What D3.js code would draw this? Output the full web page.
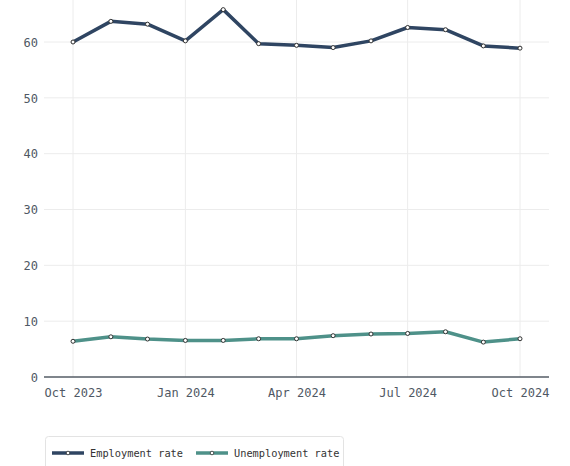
<!DOCTYPE html>
<html><head><meta charset="utf-8">
<script src="https://cdn.jsdelivr.net/npm/d3@7"></script>
<style>body{margin:0;background:#fff}svg{display:block}</style>
</head><body>
<svg id="c" width="570" height="466"></svg>
<script>
const months = ["2023-10","2023-11","2023-12","2024-01","2024-02","2024-03","2024-04","2024-05","2024-06","2024-07","2024-08","2024-09","2024-10"];
const employment = [60.0,63.7,63.2,60.2,65.8,59.7,59.4,59.0,60.2,62.6,62.2,59.3,58.9];
const unemployment = [6.4,7.2,6.8,6.55,6.55,6.85,6.85,7.4,7.7,7.8,8.1,6.25,6.85];
const yTicks = [0,10,20,30,40,50,60];
const xTickDates = ["2023-10","2024-01","2024-04","2024-07","2024-10"];
const seriesNames = ["Employment rate","Unemployment rate"];
const colors = ["#2f4562","#4e9189"];

(function(){
const parse = d3.timeParse("%Y-%m");
const dates = months.map(parse);
const svg = d3.select("#c");
const font = "'DejaVu Sans Mono', monospace";

const x = d3.scaleTime().domain([dates[0], dates[dates.length-1]]).range([73, 520]);
const y = d3.scaleLinear().domain([0, 60]).range([377, 42]);
const pl = 44, pr = 549, pt = 0;

const g = svg.append("g");
g.selectAll("line.hg").data(yTicks.filter(d=>d>0)).join("line")
  .attr("x1", pl).attr("x2", pr)
  .attr("y1", d=>y(d)).attr("y2", d=>y(d))
  .attr("stroke", "#ececec").attr("stroke-width", 1);
g.selectAll("line.vg").data(xTickDates.map(parse)).join("line")
  .attr("x1", d=>x(d)).attr("x2", d=>x(d))
  .attr("y1", pt).attr("y2", y(0))
  .attr("stroke", "#ececec").attr("stroke-width", 1);

const yAxis = d3.axisLeft(y).tickValues(yTicks).tickSize(0).tickPadding(0);
const ya = svg.append("g").attr("transform", `translate(${pl-6},0)`).call(yAxis);
ya.select(".domain").remove();
ya.selectAll("text").attr("font-family", font).attr("font-size", 12).attr("fill", "#4f5864").attr("dy","0.35em");

const xAxis = d3.axisBottom(x).tickValues(xTickDates.map(parse)).tickFormat(d3.timeFormat("%b %Y")).tickSize(0).tickPadding(11);
const xa = svg.append("g").attr("transform", `translate(0,${y(0)})`).call(xAxis);
xa.select(".domain").remove();
xa.selectAll("text").attr("font-family", font).attr("font-size", 12).attr("fill", "#4f5864");
svg.append("line").attr("x1", pl).attr("x2", pr).attr("y1", y(0)).attr("y2", y(0))
  .attr("stroke", "#555d66").attr("stroke-width", 1.5);

const series = [employment, unemployment];
const line = d3.line().x((d,i)=>x(dates[i])).y(d=>y(d));
series.forEach((s, k) => {
  svg.append("path").datum(s).attr("d", line).attr("fill","none")
    .attr("stroke", colors[k]).attr("stroke-width", 3.5).attr("stroke-linejoin","round").attr("stroke-linecap","round");
});
series.forEach((s, k) => {
  svg.append("g").selectAll("circle").data(s).join("circle")
    .attr("cx", (d,i)=>x(dates[i])).attr("cy", d=>y(d)).attr("r", 2)
    .attr("fill", "#fff").attr("stroke", "#333").attr("stroke-width", 1);
});

const lg = svg.append("g");
lg.append("rect").attr("x", 45.5).attr("y", 436.5).attr("width", 298).attr("height", 40).attr("rx", 3)
  .attr("fill", "#fff").attr("stroke", "#e3e3e3");
const items = [{x:52, tx:90},{x:196, tx:234}];
seriesNames.forEach((n, k) => {
  const it = items[k];
  lg.append("line").attr("x1", it.x).attr("x2", it.x+32).attr("y1", 453).attr("y2", 453)
    .attr("stroke", colors[k]).attr("stroke-width", 3.5);
  lg.append("circle").attr("cx", it.x+16).attr("cy", 453).attr("r", 1.8).attr("fill","#fff").attr("stroke","#333").attr("stroke-width",0.8);
  lg.append("text").attr("x", it.tx).attr("y", 453).attr("dy","0.35em").text(n)
    .attr("font-family", font).attr("font-size", 10.3).attr("fill", "#333");
});
})();
</script>
</body></html>
